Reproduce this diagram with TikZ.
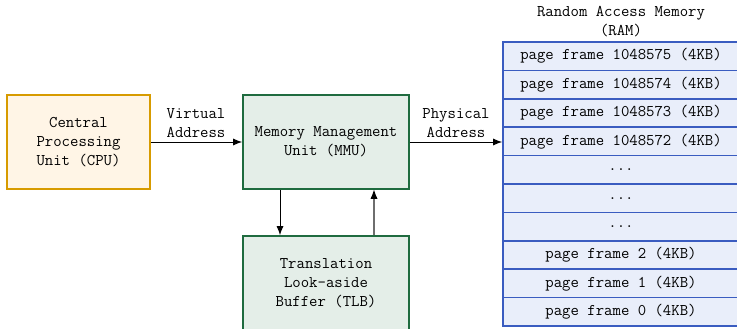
\documentclass[tikz,border=0pt]{standalone}
\usetikzlibrary{arrows.meta,calc}
\definecolor{cpuline}{HTML}{D79B00}
\definecolor{cpufill}{HTML}{FFF5E6}
\definecolor{mmuline}{HTML}{1F6B3F}
\definecolor{mmufill}{HTML}{E4EEE8}
\definecolor{ramline}{HTML}{3A5CC0}
\definecolor{ramfill}{HTML}{E9EEFA}
\definecolor{backarrow}{HTML}{6E6E6E}
\newcommand\framedots{...}
\begin{document}
\begin{tikzpicture}[x=1pt,y=-1pt,
  every node/.style={font=\fontsize{16.3pt}{19pt}\selectfont\ttfamily, inner sep=0pt},
  unitbox/.style={draw, line width=1.6pt, align=center, minimum height=94pt},
  cpubox/.style={unitbox, draw=cpuline, fill=cpufill, minimum width=143pt},
  mmubox/.style={unitbox, draw=mmuline, fill=mmufill, minimum width=166pt},
  framebox/.style={draw=ramline, fill=ramfill, line width=1.6pt,
    minimum width=236pt, minimum height=28.4pt},
  link/.style={line width=1pt, -{Latex[length=9pt,width=7pt]}},
  edgelabel/.style={align=center}
]
\useasboundingbox (0,0) rectangle (737,329);

% processing units
\node[cpubox] (cpu) at (78.5,142) {Central\\Processing\\Unit (CPU)};
\node[mmubox] (mmu) at (326,142) {Memory Management\\Unit (MMU)};
\node[mmubox] (tlb) at (326,283) {Translation\\Look-aside\\Buffer (TLB)};

% physical memory as a stack of page frames
\node[align=center] (ramtitle) at (621,22) {Random Access Memory\\(RAM)};
\foreach \i/\txt in {0/page frame 1048575 (4KB),
                     1/page frame 1048574 (4KB),
                     2/page frame 1048573 (4KB),
                     3/page frame 1048572 (4KB),
                     4/\framedots,5/\framedots,6/\framedots,
                     7/page frame 2 (4KB),
                     8/page frame 1 (4KB),
                     9/page frame 0 (4KB)}
  \node[framebox] (f\i) at (621,{42+28.4*(\i+0.5)}) {\txt};

% address translation path
\draw[link] (cpu) -- (mmu);
\node[edgelabel] (va) at (196,123) {Virtual\\Address};
\draw[link] (mmu.east) -- (mmu.east -| f3.west);
\node[edgelabel] (pa) at (456,123) {Physical\\Address};

% TLB lookup and reply (reply line grey, head black)
\coordinate (lookup) at (280,0);
\coordinate (reply) at (374,0);
\draw[link] (mmu.south -| lookup) -- (tlb.north -| lookup);
\draw[line width=1.8pt, draw=backarrow,
      -{Latex[length=9pt,width=7pt,color=black,line width=0pt]}]
  (tlb.north -| reply) -- (mmu.south -| reply);
\end{tikzpicture}
\end{document}
